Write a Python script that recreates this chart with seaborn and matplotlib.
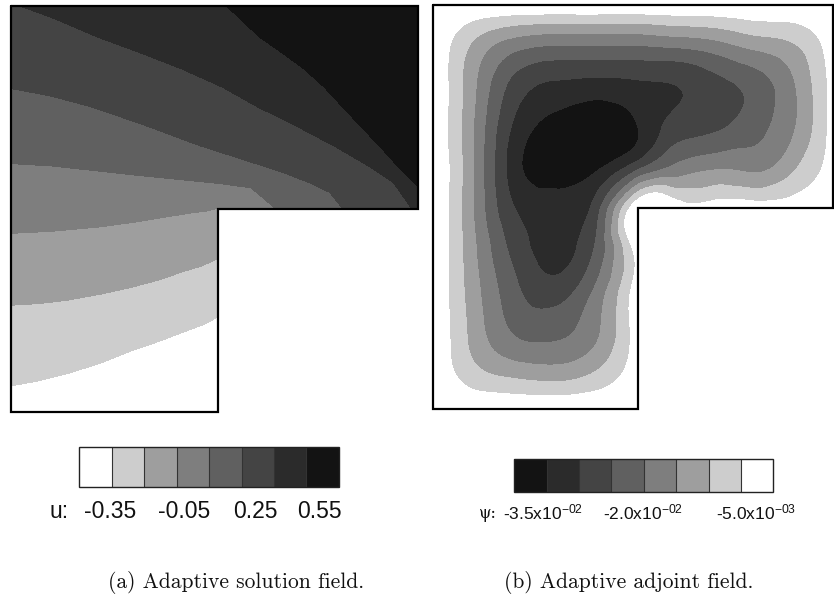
import numpy as np
import matplotlib
matplotlib.use("Agg")
import matplotlib.pyplot as plt
import matplotlib.tri as mtri
from matplotlib.path import Path
from matplotlib.patches import PathPatch
import seaborn as sns

sns.set_theme(style="white")
plt.rcParams["font.family"] = ["Liberation Sans", "DejaVu Sans"]
plt.rcParams["mathtext.fontset"] = "custom"
plt.rcParams["mathtext.rm"] = "Liberation Sans"
plt.rcParams["mathtext.it"] = "Liberation Sans:italic"
plt.rcParams["mathtext.bf"] = "Liberation Sans:bold"

# ======================= data =======================
# ---- panel (a): solution u, sampled along its level lines (domain = unit L) ----
U_L1_X = [0.0, 0.07, 0.137, 0.22, 0.30, 0.37, 0.424, 0.47, 0.509]
U_L1_Y = [0.064, 0.077, 0.094, 0.12, 0.152, 0.176, 0.197, 0.214, 0.234]
U_L2_X = [0.0, 0.07, 0.137, 0.22, 0.30, 0.37, 0.42, 0.47, 0.509]
U_L2_Y = [0.263, 0.267, 0.275, 0.29, 0.308, 0.327, 0.345, 0.36, 0.378]
U_L3_X = [0.0, 0.10, 0.22, 0.30, 0.38, 0.44, 0.48, 0.509]
U_L3_Y = [0.44, 0.445, 0.456, 0.467, 0.48, 0.49, 0.495, 0.495]
U_L4_X = [0.0, 0.10, 0.22, 0.32, 0.42, 0.52, 0.59, 0.63, 0.645, 0.652]
U_L4_Y = [0.612, 0.606, 0.593, 0.582, 0.572, 0.562, 0.552, 0.541, 0.52, 0.5]
U_L5_X = [0.0, 0.10, 0.20, 0.33, 0.464, 0.57, 0.669, 0.74, 0.783, 0.805, 0.816]
U_L5_Y = [0.797, 0.778, 0.751, 0.706, 0.656, 0.622, 0.59, 0.562, 0.541, 0.52, 0.5]
U_L6_X = [0.023, 0.11, 0.212, 0.32, 0.42, 0.52, 0.607, 0.70, 0.80, 0.88, 0.94, 0.975, 0.985]
U_L6_Y = [1.0, 0.968, 0.924, 0.884, 0.845, 0.80, 0.751, 0.705, 0.652, 0.605, 0.565, 0.535, 0.5]
U_L7_X = [0.53, 0.57, 0.61, 0.67, 0.72, 0.77, 0.815, 0.86, 0.91, 0.955, 1.0]
U_L7_Y = [1.0, 0.962, 0.924, 0.882, 0.845, 0.80, 0.751, 0.703, 0.65, 0.6, 0.555]
U_LINE_LEVELS = [-0.35, -0.20, -0.05, 0.10, 0.25, 0.40, 0.55]
# values at the corners of the domain
U_CORNER_X = [0.0, 0.25, 0.509, 0.509, 1.0, 1.0, 0.0]
U_CORNER_Y = [0.0, 0.0, 0.0, 0.5, 0.5, 1.0, 1.0]
U_CORNER_V = [-0.40, -0.47, -0.56, -0.055, 0.42, 0.85, 0.39]

# ---- panel (b): adjoint psi on a grid, rows bottom (y=0) to top (y=1) ----
N = np.nan
PSI_GRID_X = [0.0, 0.102, 0.205, 0.307, 0.41, 0.512, 0.61, 0.707, 0.805, 0.902, 1.0]
PSI_GRID_Y = [0.0, 0.1, 0.2, 0.3, 0.4, 0.4975, 0.6, 0.7, 0.8, 0.9, 1.0]
PSI_ROWS = [
    [0, 0, 0, 0, 0, 0, N, N, N, N, N],
    [0, -0.009, -0.013, -0.014, -0.0105, -0.002, N, N, N, N, N],
    [0, -0.012, -0.021, -0.022, -0.016, -0.002, N, N, N, N, N],
    [0, -0.013, -0.024, -0.028, -0.019, -0.002, N, N, N, N, N],
    [0, -0.014, -0.027, -0.032, -0.024, -0.002, N, N, N, N, N],
    [0, -0.015, -0.030, -0.033, -0.027, 0, -0.002, -0.002, -0.002, -0.002, 0],
    [0, -0.015, -0.033, -0.038, -0.036, -0.027, -0.019, -0.016, -0.0165, -0.011, -0.003],
    [0, -0.015, -0.031, -0.037, -0.039, -0.035, -0.028, -0.026, -0.022, -0.0155, -0.003],
    [0, -0.014, -0.027, -0.031, -0.032, -0.031, -0.030, -0.027, -0.023, -0.0155, -0.003],
    [0, -0.011, -0.018, -0.020, -0.020, -0.020, -0.019, -0.017, -0.0135, -0.0105, -0.002],
    [0, 0, 0, 0, 0, 0, 0, 0, 0, 0, 0],
]

U_LEVELS = [-2.0, -0.35, -0.20, -0.05, 0.10, 0.25, 0.40, 0.55, 2.0]
PSI_LEVELS = [-0.2, -0.035, -0.030, -0.025, -0.020, -0.015, -0.010, -0.005, 0.2]

U_TICK_LABELS = ["-0.35", "-0.05", "0.25", "0.55"]
PSI_TICK_LABELS = [r"-3.5x10$^{-02}$", r"-2.0x10$^{-02}$", r"-5.0x10$^{-03}$"]
CAPTIONS = ["(a) Adaptive solution field.", "(b) Adaptive adjoint field."]

# light -> dark
GRAYS = sns.color_palette(["#ffffff", "#cdcdcd", "#9e9e9e", "#7e7e7e",
                           "#606060", "#444444", "#2b2b2b", "#131313"])

# ============================== layout ==============================
W, H = 834, 612
CORNER_A = (0.509, 0.5)
CORNER_B = (0.512, 0.4975)


def fig_rect(x0, y0, x1, y1):
    return [x0 / W, (H - y1) / H, (x1 - x0) / W, (y1 - y0) / H]


def l_path(corner):
    cx, cy = corner
    return [(0, 1), (1, 1), (1, cy), (cx, cy), (cx, 0), (0, 0), (0, 1)]


def field_from_lines(lines, levels, ax_x, ax_y, ax_v, corner):
    xs, ys, vs = [], [], []
    for (lx, ly), lev in zip(lines, levels):
        xs += list(lx)
        ys += list(ly)
        vs += [lev] * len(lx)
    xs += ax_x
    ys += ax_y
    vs += ax_v
    xs, ys, vs = map(np.asarray, (xs, ys, vs))
    tri = mtri.Triangulation(xs, ys)
    mx = xs[tri.triangles].mean(axis=1)
    my = ys[tri.triangles].mean(axis=1)
    tri.set_mask((mx > corner[0] + 1e-9) & (my < corner[1] - 1e-9))
    return tri, vs


def field_from_grid(rows, gxs, gys):
    gx, gy = np.meshgrid(gxs, gys)
    z = np.array(rows, float)
    valid = ~np.isnan(z)
    idx = -np.ones(z.shape, int)
    idx[valid] = np.arange(valid.sum())
    tris = []
    ny, nx = z.shape
    for j in range(ny - 1):
        for i in range(nx - 1):
            a, b, c, d = idx[j, i], idx[j, i + 1], idx[j + 1, i], idx[j + 1, i + 1]
            if min(a, b, c, d) < 0:
                continue
            tris.append([a, b, d])
            tris.append([a, d, c])
    tri = mtri.Triangulation(gx[valid], gy[valid], np.array(tris))
    refiner = mtri.UniformTriRefiner(tri)
    return refiner.refine_field(z[valid], subdiv=4)


def finish(ax, cs, corner):
    verts = l_path(corner)
    patch = PathPatch(Path(verts), transform=ax.transData, facecolor="none", edgecolor="none")
    ax.add_patch(patch)
    cs.set_clip_path(patch)
    xs, ys = zip(*verts)
    ax.plot(xs, ys, color="black", lw=1.6, solid_joinstyle="miter", clip_on=False, zorder=5)
    ax.set_xlim(0, 1)
    ax.set_ylim(0, 1)
    ax.axis("off")


fig = plt.figure(figsize=(W / 100, H / 100), dpi=100)
fig.patch.set_facecolor("white")

# ---- panel (a)
ax_a = fig.add_axes(fig_rect(10.7, 6, 418, 412))
u_lines = [(U_L1_X, U_L1_Y), (U_L2_X, U_L2_Y), (U_L3_X, U_L3_Y), (U_L4_X, U_L4_Y),
           (U_L5_X, U_L5_Y), (U_L6_X, U_L6_Y), (U_L7_X, U_L7_Y)]
tri_a, z_a = field_from_lines(u_lines, U_LINE_LEVELS, U_CORNER_X, U_CORNER_Y, U_CORNER_V, CORNER_A)
cs_a = ax_a.tricontourf(tri_a, z_a, levels=U_LEVELS, colors=GRAYS)
finish(ax_a, cs_a, CORNER_A)

# ---- panel (b)
ax_b = fig.add_axes(fig_rect(432.7, 5, 833, 409))
tri_b, z_b = field_from_grid(PSI_ROWS, PSI_GRID_X, PSI_GRID_Y)
cs_b = ax_b.tricontourf(tri_b, z_b, levels=PSI_LEVELS, colors=GRAYS[::-1])
finish(ax_b, cs_b, CORNER_B)

# ---- colour bars
cax_a = fig.add_axes(fig_rect(79, 447, 339, 487))
cb_a = fig.colorbar(cs_a, cax=cax_a, orientation="horizontal", drawedges=True, spacing="uniform")
cax_b = fig.add_axes(fig_rect(514.3, 459, 773.3, 492))
cb_b = fig.colorbar(cs_b, cax=cax_b, orientation="horizontal", drawedges=True, spacing="uniform")
for cb in (cb_a, cb_b):
    cb.set_ticks([])
    cb.outline.set_linewidth(1.0)
    cb.outline.set_edgecolor("#222222")
    cb.dividers.set_linewidth(0.8)
    cb.dividers.set_color("#333333")

A_LABEL_POS = [0.119, 0.404, 0.679, 0.925]
for lab, px in zip(U_TICK_LABELS, A_LABEL_POS):
    cax_a.text(px, -0.6, lab, transform=cax_a.transAxes, ha="center", va="center",
               fontsize=16.5, color="#111111")
cax_a.text(-0.077, -0.6, "u:", transform=cax_a.transAxes, ha="center", va="center",
           fontsize=16.5, color="#111111")

B_LABEL_POS = [0.111, 0.497, 0.933]
for lab, px in zip(PSI_TICK_LABELS, B_LABEL_POS):
    cax_b.text(px, -0.62, lab, transform=cax_b.transAxes, ha="center", va="center",
               fontsize=12.5, color="#111111")
cax_b.text(-0.10, -0.66, "\u03c8:", transform=cax_b.transAxes, ha="center", va="center",
           fontsize=11.5, color="#111111", family=["DejaVu Serif"])

# ---- captions
fig.text(236 / W, (H - 583) / H, CAPTIONS[0], ha="center", va="center",
         fontsize=15.5, family="cmr10", color="#111111")
fig.text(629 / W, (H - 583) / H, CAPTIONS[1], ha="center", va="center",
         fontsize=15.5, family="cmr10", color="#111111")

fig.savefig("out.png", dpi=100, facecolor="white")
